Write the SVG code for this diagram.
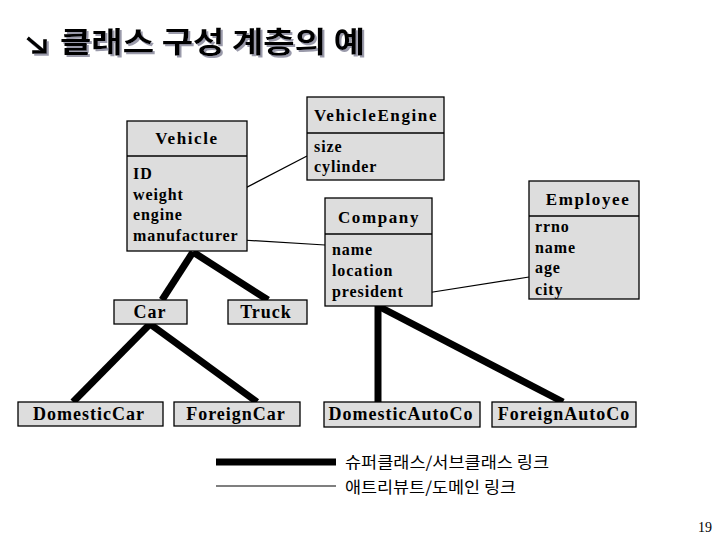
<svg xmlns="http://www.w3.org/2000/svg" width="720" height="540" viewBox="0 0 720 540">
<defs>
<filter id="shadow" x="-10%" y="-20%" width="130%" height="150%">
<feDropShadow dx="2" dy="2" stdDeviation="0.3" flood-color="#9a9aaa" flood-opacity="1"/>
</filter>
</defs>
<style>
.box{fill:#dddddd;stroke:#000;stroke-width:1.3}
.div{stroke:#000;stroke-width:1.3}
.ttl{font-family:"Liberation Serif","Times New Roman",serif;font-weight:bold;font-size:17px;letter-spacing:1.6px;fill:#000;text-anchor:middle}
.att{font-family:"Liberation Serif","Times New Roman",serif;font-weight:bold;font-size:16px;letter-spacing:0.9px;fill:#000}
.lbl{font-family:"Liberation Serif","Times New Roman",serif;font-weight:bold;font-size:18px;letter-spacing:1px;fill:#000;text-anchor:middle}
.thick{stroke:#000;stroke-width:7;fill:none}
.thin{stroke:#000;stroke-width:1.2;fill:none}
.kr{font-family:"Noto Sans CJK KR",sans-serif;font-size:16px;fill:#000}
.head{font-family:"Noto Sans CJK KR",sans-serif;font-weight:bold;font-size:29px;fill:#000}
</style>
<rect width="720" height="540" fill="#fff"/>
<g id="title" filter="url(#shadow)">
<g id="bullet" fill="none" stroke="#000" stroke-width="3.6" stroke-linecap="square">
<line x1="29" y1="39" x2="42" y2="50"/>
<polyline points="34,52 45,52 45,41"/>
</g>
<text x="60" y="53" class="head" textLength="305" lengthAdjust="spacingAndGlyphs">클래스 구성 계층의 예</text>
</g>
<g id="connectors">
<line class="thick" x1="193" y1="252" x2="162" y2="300"/>
<line class="thick" x1="193" y1="252" x2="268" y2="300"/>
<line class="thick" x1="150" y1="324" x2="73" y2="402"/>
<line class="thick" x1="150" y1="324" x2="257" y2="402"/>
<line class="thick" x1="378" y1="306" x2="378" y2="402"/>
<line class="thick" x1="378" y1="306" x2="563" y2="402"/>
<line class="thin" x1="205" y1="209" x2="307" y2="156"/>
<line class="thin" x1="242" y1="240" x2="325" y2="245"/>
<line class="thin" x1="414" y1="295" x2="529" y2="277"/>
</g>
<g id="Vehicle">
<rect class="box" x="127" y="121" width="120" height="130"/>
<line class="div" x1="127" y1="156" x2="247" y2="156"/>
<text class="ttl" x="187" y="144">Vehicle</text>
<text class="att" x="133" y="179">ID</text>
<text class="att" x="133" y="200">weight</text>
<text class="att" x="133" y="220">engine</text>
<text class="att" x="133" y="241">manufacturer</text>
</g>
<g id="VehicleEngine">
<rect class="box" x="307" y="97" width="137" height="83"/>
<line class="div" x1="307" y1="133" x2="444" y2="133"/>
<text class="ttl" x="376" y="121">VehicleEngine</text>
<text class="att" x="314" y="152">size</text>
<text class="att" x="314" y="172">cylinder</text>
</g>
<g id="Company">
<rect class="box" x="325" y="198" width="107" height="108"/>
<line class="div" x1="325" y1="234" x2="432" y2="234"/>
<text class="ttl" x="379" y="223">Company</text>
<text class="att" x="332" y="255">name</text>
<text class="att" x="332" y="276">location</text>
<text class="att" x="332" y="297">president</text>
</g>
<g id="Employee">
<rect class="box" x="529" y="181" width="110" height="118"/>
<line class="div" x1="529" y1="216" x2="639" y2="216"/>
<text class="ttl" x="588" y="205">Employee</text>
<text class="att" x="535" y="232">rrno</text>
<text class="att" x="535" y="253">name</text>
<text class="att" x="535" y="273">age</text>
<text class="att" x="535" y="295">city</text>
</g>
<g id="Car">
<rect class="box" x="114" y="300" width="73" height="24"/>
<text class="lbl" x="150" y="318">Car</text>
</g>
<g id="Truck">
<rect class="box" x="228" y="300" width="79" height="24"/>
<text class="lbl" x="266" y="318">Truck</text>
</g>
<g id="DomesticCar">
<rect class="box" x="18" y="402" width="145" height="24"/>
<text class="lbl" x="89" y="420">DomesticCar</text>
</g>
<g id="ForeignCar">
<rect class="box" x="174" y="402" width="126" height="24"/>
<text class="lbl" x="236" y="420">ForeignCar</text>
</g>
<g id="DomesticAutoCo">
<rect class="box" x="324" y="402" width="156" height="25"/>
<text class="lbl" x="401" y="420">DomesticAutoCo</text>
</g>
<g id="ForeignAutoCo">
<rect class="box" x="492" y="402" width="144" height="25"/>
<text class="lbl" x="564" y="420">ForeignAutoCo</text>
</g>
<g id="legend">
<line class="thick" x1="216" y1="462" x2="336" y2="462"/>
<line class="thin" x1="216" y1="486" x2="336" y2="486"/>
<text class="kr" x="345" y="468" textLength="204" lengthAdjust="spacingAndGlyphs">슈퍼클래스/서브클래스 링크</text>
<text class="kr" x="345" y="493" textLength="171" lengthAdjust="spacingAndGlyphs">애트리뷰트/도메인 링크</text>
</g>
<text x="712" y="532" text-anchor="end" style="font-family:'Liberation Serif',serif;font-size:14px">19</text>
</svg>
